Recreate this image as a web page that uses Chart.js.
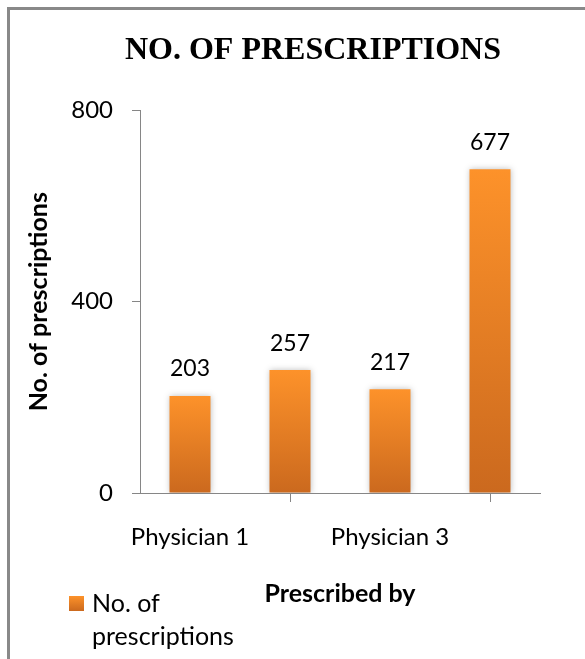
<!DOCTYPE html>
<html>
<head>
<meta charset="utf-8">
<title>No. of prescriptions</title>
<script src="https://cdn.jsdelivr.net/npm/chart.js@4.4.1/dist/chart.umd.min.js"></script>
<style>
  html, body { margin: 0; padding: 0; background: #fff; overflow: hidden; }
  #page { position: relative; width: 585px; height: 659px; overflow: hidden; }
  #frame {
    position: absolute; left: 7px; top: 7px; width: 2000px; height: 2000px;
    border: 3px solid #898989; box-sizing: border-box;
  }
  #chart { position: absolute; left: 0; top: 0; }
</style>
</head>
<body>
<div id="page">
  <div id="frame"></div>
  <canvas id="chart" width="626" height="659"></canvas>
</div>
<script>
/* ---- Data ---- */
const categories = ["Physician 1", "Physician 2", "Physician 3", "Physician 4"];
const prescriptions = [203, 257, 217, 677];
const yTicks = [0, 400, 800];
const seriesName = "No. of prescriptions";
const legendLines = ["No. of", "prescriptions"];
const chartTitle = "NO. OF PRESCRIPTIONS";
const xTitle = "Prescribed by";

/* ---- Theme ---- */
const sans = "Lato, 'Open Sans', sans-serif";
const axisGray = "#868686";
const orangeTop = "#fd922a";
const orangeBottom = "#cb691e";
const labelFont = { family: sans, size: 24 };
const valueFont = { family: sans, size: 23 };
const boldFont = { family: sans, size: 25, weight: "bold" };

/* vertical gradient per bar, from its top to the baseline */
const barFill = (ctx) => {
  const { chart, dataIndex, dataset, type } = ctx;
  const yScale = chart.scales.y;
  if (type !== "data" || !chart.chartArea || !yScale) return orangeTop;
  const top = yScale.getPixelForValue(dataset.data[dataIndex]);
  const base = yScale.getPixelForValue(0);
  const g = chart.ctx.createLinearGradient(0, top, 0, base);
  g.addColorStop(0, orangeTop);
  g.addColorStop(1, orangeBottom);
  return g;
};

/* ---- Plugins ---- */
const barShadow = {
  id: "barShadow",
  beforeDatasetsDraw(chart) {
    const c = chart.ctx;
    c.save();
    c.shadowColor = "rgba(0, 0, 0, 0.25)";
    c.shadowBlur = 6;
  },
  afterDatasetsDraw(chart) {
    chart.ctx.restore();
  },
};

const valueLabels = {
  id: "valueLabels",
  afterDraw(chart) {
    const c = chart.ctx;
    const meta = chart.getDatasetMeta(0);
    c.save();
    c.font = `${valueFont.size}px ${sans}`;
    c.fillStyle = "#000";
    c.textAlign = "center";
    c.textBaseline = "middle";
    meta.data.forEach((bar, i) => {
      c.fillText(String(prescriptions[i]), bar.x, bar.y - 27);
    });
    c.restore();
  },
};

/* legend sits left of the x axis title, text wrapped on two lines */
const sideLegend = {
  id: "sideLegend",
  afterDraw(chart) {
    const c = chart.ctx;
    const x = chart.chartArea.left - 71;
    const y = chart.chartArea.bottom + 103;
    const g = c.createLinearGradient(0, y, 0, y + 15);
    g.addColorStop(0, orangeTop);
    g.addColorStop(1, orangeBottom);
    c.save();
    c.fillStyle = g;
    c.fillRect(x, y, 15, 15);
    c.font = `25px ${sans}`;
    c.fillStyle = "#000";
    c.textAlign = "left";
    c.textBaseline = "alphabetic";
    legendLines.forEach((line, i) => {
      c.fillText(line, x + 23, y + 16 + i * 33);
    });
    c.restore();
  },
};

/* ---- Chart ---- */
new Chart(document.getElementById("chart"), {
  type: "bar",
  data: {
    labels: categories,
    datasets: [
      {
        label: seriesName,
        data: prescriptions,
        backgroundColor: barFill,
        borderWidth: 0,
        barPercentage: 0.41,
        categoryPercentage: 1,
      },
    ],
  },
  options: {
    responsive: false,
    animation: false,
    devicePixelRatio: 1,
    layout: { padding: { left: 0, right: 0, top: 0, bottom: 50 } },
    plugins: {
      legend: { display: false },
      tooltip: { enabled: false },
      title: {
        display: true,
        text: chartTitle,
        color: "#000",
        font: { family: "'Liberation Serif', 'Times New Roman', serif", size: 32, weight: "bold" },
        padding: { top: 32, bottom: 40 },
      },
    },
    scales: {
      x: {
        ticks: {
          font: labelFont,
          color: "#000",
          padding: 21,
          maxRotation: 0,
          minRotation: 0,
          autoSkip: true,
        },
        grid: { drawOnChartArea: false, tickLength: 9, color: axisGray, offset: true },
        border: { color: axisGray },
        title: { display: true, text: xTitle, color: "#000", font: boldFont, padding: 0 },
        afterFit: (s) => { s.height = 116; },
      },
      y: {
        min: 0,
        max: 800,
        afterBuildTicks: (s) => { s.ticks = yTicks.map((v) => ({ value: v })); },
        ticks: { font: labelFont, color: "#000", padding: 19 },
        grid: { drawOnChartArea: false, tickLength: 8, color: axisGray },
        border: { color: axisGray },
        title: {
          display: true,
          text: seriesName,
          color: "#000",
          font: boldFont,
          padding: { top: 24, bottom: 0 },
        },
        afterFit: (s) => { s.width = 140; },
      },
      /* empty right-hand gutter so the title centres on the whole frame */
      gutter: {
        type: "linear",
        position: "right",
        grid: { display: false },
        ticks: { display: false },
        border: { display: false },
        afterFit: (s) => { s.width = 86; },
      },
    },
  },
  plugins: [barShadow, valueLabels, sideLegend],
});
</script>
</body>
</html>
